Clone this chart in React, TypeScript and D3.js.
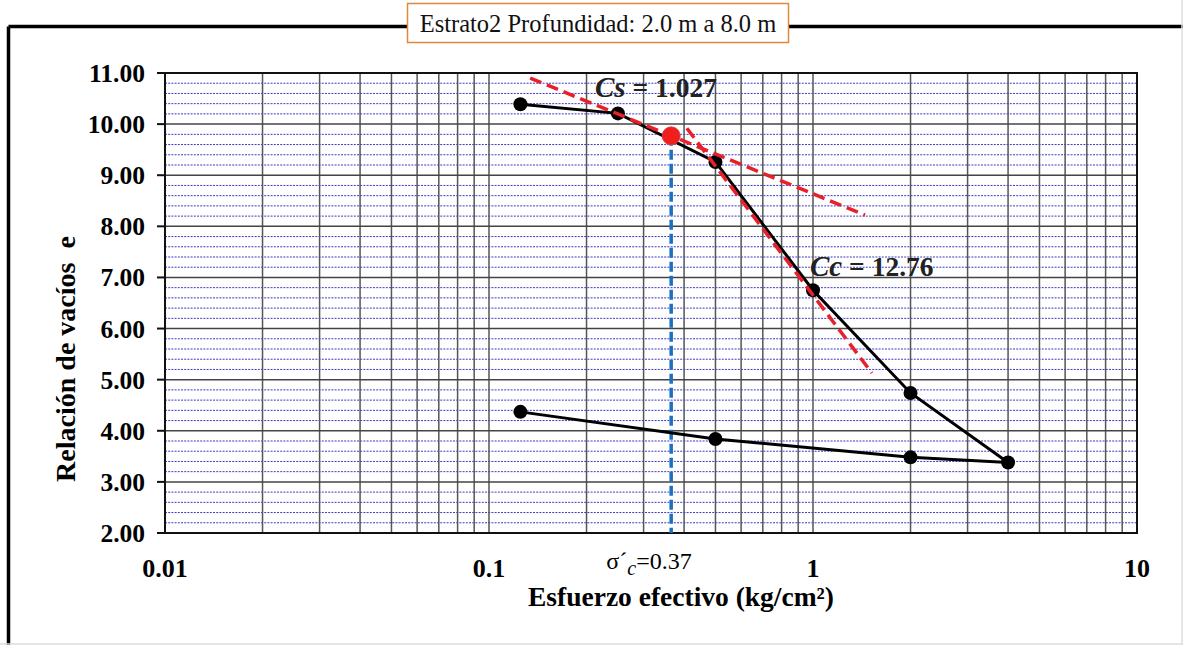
import React from "react";
import * as d3 from "d3";

const loadStress = [0.125, 0.25, 0.5, 1, 2, 4, 2, 0.5, 0.125];
const voidRatio = [10.39, 10.21, 9.26, 6.75, 4.74, 3.38, 3.48, 3.84, 4.37];
const preconStress = 0.365;
const preconVoid = 9.77;
const csLineX = [0.134, 1.447];
const csLineY = [10.9, 8.22];
const ccLineX = [0.408, 1.52];
const ccLineY = [9.92, 5.13];
const xTicks = [0.01, 0.1, 1, 10];
const xTickLabels = ["0.01", "0.1", "1", "10"];
const yTicks = [2, 3, 4, 5, 6, 7, 8, 9, 10, 11];
const title = "Estrato2 Profundidad: 2.0 m a 8.0 m";

export default function App() {
  const W = 1183, H = 645;
  const left = 165, right = 1137, top = 73, bottom = 533;
  const x = d3.scaleLog().domain([0.01, 10]).range([left, right]);
  const y = d3.scaleLinear().domain([2, 11]).range([bottom, top]);

  const minorY: number[] = [];
  for (let v = 2; v < 11; v += 1) for (let k = 1; k < 5; k++) minorY.push(v + k * 0.2);
  const minorX: number[] = [];
  for (let d = 0.01; d < 10; d *= 10) for (let k = 2; k <= 9; k++) minorX.push(d * k);

  const line = d3.line<number>().x((_, i) => x(loadStress[i])).y((v) => y(v));
  const serif = "Liberation Serif";

  return (
    <svg width={W} height={H} style={{ position: "absolute", left: 0, top: 0, background: "#fff" }}>
      <rect x={0} y={0} width={W} height={H} fill="#fff" />
      {/* outer frame */}
      <line x1={8.5} y1={26.5} x2={W} y2={26.5} stroke="#000" strokeWidth={3.5} />
      <line x1={8.5} y1={26.5} x2={8.5} y2={H} stroke="#000" strokeWidth={3.5} />
      <line x1={W - 1} y1={0} x2={W - 1} y2={H} stroke="#ddd" strokeWidth={1.5} />
      <line x1={0} y1={H - 1} x2={W} y2={H - 1} stroke="#ddd" strokeWidth={1.5} />

      {/* title box */}
      <rect x={407.5} y={3.5} width={381} height={39} fill="#fff" stroke="#E0893A" strokeWidth={1.5} />
      <text x={598} y={32} textAnchor="middle" fontFamily={serif} fontSize={24.5} fill="#111">{title}</text>

      {/* minor horizontal grid */}
      {minorY.map((v, i) => (
        <line key={"my" + i} x1={left} x2={right} y1={y(v)} y2={y(v)} stroke="#3b3bc4" strokeWidth={1} strokeDasharray="2,1.2" />
      ))}
      {/* vertical grid */}
      {minorX.map((v, i) => (
        <line key={"mx" + i} x1={x(v)} x2={x(v)} y1={top} y2={bottom} stroke="#555" strokeWidth={1.5} />
      ))}
      {xTicks.map((v, i) => (
        <line key={"vx" + i} x1={x(v)} x2={x(v)} y1={top} y2={bottom} stroke="#555" strokeWidth={1.5} />
      ))}
      {/* major horizontal grid */}
      {yTicks.map((v, i) => (
        <line key={"gy" + i} x1={left} x2={right} y1={y(v)} y2={y(v)} stroke="#444" strokeWidth={1.5} />
      ))}
      {/* plot border */}
      <rect x={left} y={top} width={right - left} height={bottom - top} fill="none" stroke="#111" strokeWidth={2} />

      {/* y ticks & labels */}
      {yTicks.map((v, i) => (
        <g key={"yt" + i}>
          <line x1={left - 8} x2={left} y1={y(v)} y2={y(v)} stroke="#111" strokeWidth={2} />
          <text x={145} y={y(v) + 9} textAnchor="end" fontFamily={serif} fontWeight="bold" fontSize={25.5}>{v.toFixed(2)}</text>
        </g>
      ))}
      {/* x tick labels */}
      {xTicks.map((v, i) => (
        <text key={"xt" + i} x={x(v)} y={577} textAnchor="middle" fontFamily={serif} fontWeight="bold" fontSize={26}>{xTickLabels[i]}</text>
      ))}

      {/* axis titles */}
      <text x={681} y={606} textAnchor="middle" fontFamily={serif} fontWeight="bold" fontSize={27.5}>Esfuerzo efectivo (kg/cm²)</text>
      <text transform={`translate(75,359) rotate(-90)`} textAnchor="middle" fontFamily={serif} fontWeight="bold" fontSize={28} style={{ whiteSpace: "pre" }}>Relación de vacíos  e</text>

      {/* sigma label */}
      <text x={649} y={569} textAnchor="middle" fontFamily={serif} fontSize={24}>
        σ´<tspan fontStyle="italic" dy={6} fontSize={20}>c</tspan><tspan dy={-6}>=0.37</tspan>
      </text>

      {/* blue dashed vertical */}
      <line x1={x(preconStress)} x2={x(preconStress)} y1={y(preconVoid)} y2={bottom} stroke="#1F6FBF" strokeWidth={3.5} strokeDasharray="10,4" />

      {/* data line */}
      <path d={line(voidRatio) || ""} fill="none" stroke="#000" strokeWidth={3} />
      {voidRatio.map((v, i) => (
        <circle key={"p" + i} cx={x(loadStress[i])} cy={y(v)} r={7} fill="#000" />
      ))}

      {/* red dashed tangents */}
      <line x1={x(csLineX[0])} y1={y(csLineY[0])} x2={x(csLineX[1])} y2={y(csLineY[1])} stroke="#E8202A" strokeWidth={3.5} strokeDasharray="12,6" />
      <line x1={x(ccLineX[0])} y1={y(ccLineY[0])} x2={x(ccLineX[1])} y2={y(ccLineY[1])} stroke="#E8202A" strokeWidth={3.5} strokeDasharray="12,6" />

      {/* precon point */}
      <circle cx={x(preconStress)} cy={y(preconVoid)} r={9} fill="#F21D1D" stroke="#c44" strokeWidth={1} />

      {/* coefficient labels */}
      <text x={595} y={97} fontFamily={serif} fontWeight="bold" fontSize={27.5} fill="#222" style={{ whiteSpace: "pre" }}>
        <tspan fontStyle="italic" fontSize={29}>Cs</tspan><tspan> = 1.027</tspan>
      </text>
      <text x={810} y={276} fontFamily={serif} fontWeight="bold" fontSize={27.5} fill="#222" style={{ whiteSpace: "pre" }}>
        <tspan fontStyle="italic" fontSize={29}>Cc</tspan><tspan> = 12.76</tspan>
      </text>
    </svg>
  );
}
